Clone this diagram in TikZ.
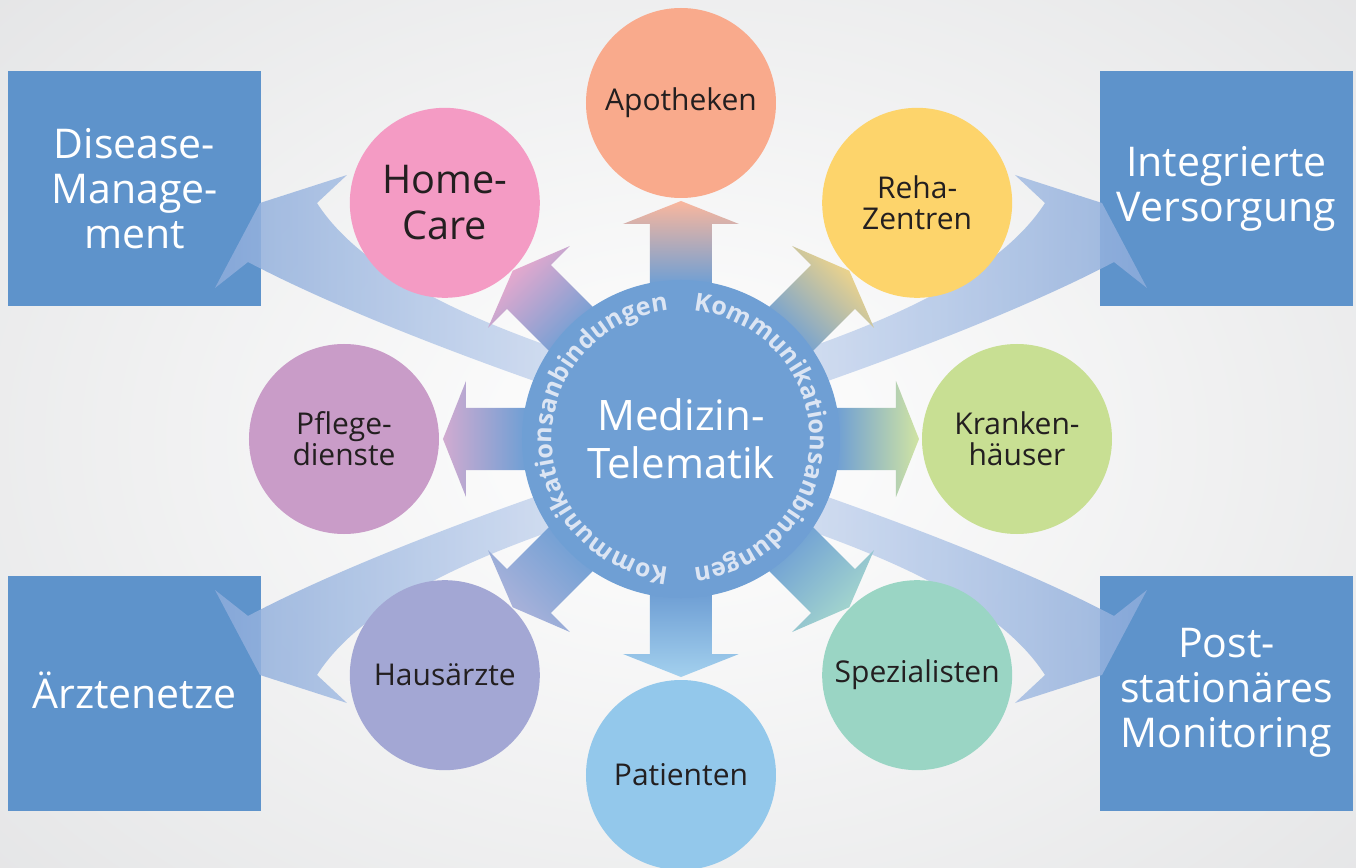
\documentclass[tikz,border=0pt]{standalone}
\usepackage{fontspec}
\setmainfont{Open Sans}
\usetikzlibrary{calc,decorations.text}
\definecolor{hubblue}{HTML}{6F9FD4}
\definecolor{boxblue}{HTML}{5E93CB}
\definecolor{bandlight}{HTML}{CAD8EF}
\definecolor{banddark}{HTML}{8DACDB}
\definecolor{bggray}{HTML}{D2D3D5}
\definecolor{ringtext}{HTML}{DCE5F3}
\definecolor{textdark}{HTML}{231F20}
\definecolor{apocolor}{HTML}{F9AA8C}
\definecolor{rehacolor}{HTML}{FDD46B}
\definecolor{krankcolor}{HTML}{C8DF93}
\definecolor{spezcolor}{HTML}{9AD5C4}
\definecolor{patcolor}{HTML}{93C8EB}
\definecolor{hauscolor}{HTML}{A3A7D4}
\definecolor{pflegecolor}{HTML}{C99CC8}
\definecolor{homecolor}{HTML}{F49BC4}

\begin{document}
\begin{tikzpicture}[
        x=0.5pt, y=0.5pt,
        hub/.style={
            circle,
            fill=hubblue,
            minimum size=159pt,
            inner sep=0pt,
            align=center,
            text=white,
            font=\fontsize{21}{24}\selectfont
        },
        partner/.style={
            circle,
            fill=#1,
            minimum size=95pt,
            inner sep=0pt,
            align=center,
            text=textdark,
            font=\fontsize{15}{15.5}\selectfont
        },
        target/.style={
            fill=boxblue,
            minimum width=126.5pt,
            minimum height=117.5pt,
            inner sep=0pt,
            align=center,
            text=white,
            font=\fontsize{20.5}{22.5}\selectfont
        },
        band/.style={fill opacity=0.85},
        spoke/.style={bottom color=hubblue, top color=#1!85!white}
    ]
        \useasboundingbox (-681,-429) rectangle (675,439);
        \begin{scope}
            \clip (-681,-429) rectangle (675,439);
            \shade[inner color=white, outer color=bggray] (0,0) ellipse [x radius=1600, y radius=1150];
        \end{scope}

        \node[target] (disease) at (-546.5,250.5) {Disease-\\Manage-\\ment};
        \node[target] (integriert) at (545.5,250.5) {Integrierte\\Versorgung};
        \node[target] (aerzte) at (-546.5,-254) {\raisebox{3pt}{Ärztenetze}};
        \node[target] (poststat) at (545.5,-254) {Post-\\stationäres\\Monitoring};

        % curved bands from the hub out to the four corner boxes
        \foreach \sx/\sy/\ang in {1/1/90, -1/1/-90, 1/-1/90, -1/-1/-90}
            \shade[band, left color=banddark, right color=bandlight, shading angle=\ang, xscale=\sx, yscale=\sy]
                (-121,89) .. controls (-221,124) and (-321,169) .. (-364,236)
                -- (-334,264) -- (-421,236) -- (-466,151) -- (-433,177)
                .. controls (-361,139) and (-251,94) .. (-121,49) -- cycle;

        % short arrows to the partners
        \foreach \ang/\col in {90/apocolor, 45/rehacolor, 0/krankcolor, -45/spezcolor,
                               -90/patcolor, -135/hauscolor, 180/pflegecolor, 135/homecolor}
        {
            \pgfmathsetmacro{\sang}{\ang-90}
            \shade[spoke=\col, shading angle=\sang, rotate=\ang]
                (155,31) -- (215,31) -- (215,58) -- (238,0) -- (215,-58) -- (215,-31) -- (155,-31) -- cycle;
        }

        \node[partner=apocolor] (apotheken) at (90:336) {Apotheken};
        \node[partner=rehacolor] (reha) at (45:334) {Reha-\\Zentren};
        \node[partner=krankcolor] (kranken) at (0:336) {Kranken-\\häuser};
        \node[partner=spezcolor] (spezialisten) at (-45:334) {Spezialisten};
        \node[partner=patcolor] (patienten) at (-90:336) {Patienten};
        \node[partner=hauscolor] (hausaerzte) at (-135:334) {Hausärzte};
        \node[partner=pflegecolor] (pflege) at (180:337) {Pflege-\\dienste};
        \node[partner=homecolor, font=\fontsize{19.8}{23}\selectfont] (homecare) at (135:334) {Home-\\Care};

        \node[hub] (hub) at (0,0) {Medizin-\\Telematik};

        \foreach \start in {90,-90}
            \path[decorate, decoration={text along path, text align=center, text color=ringtext,
                    text={|\bfseries\fontsize{12.5}{13}\selectfont|Kommunikationsanbindungen}}]
                (\start:129) arc[start angle=\start, end angle=\start-180, radius=129];
\end{tikzpicture}
\end{document}
